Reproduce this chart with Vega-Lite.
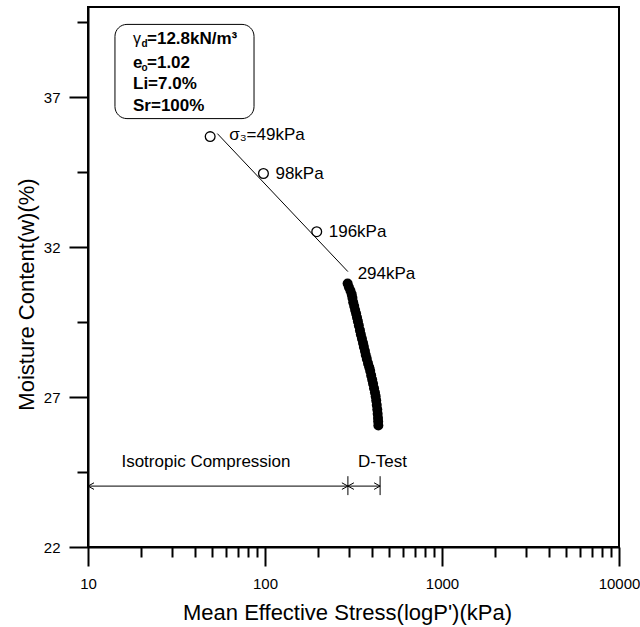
{
  "$schema": "https://vega.github.io/schema/vega-lite/v6.json",
  "width": 531,
  "height": 540,
  "autosize": {"type": "none"},
  "padding": {"left": 88, "top": 7, "right": 21, "bottom": 80},
  "background": "white",
  "config": {
    "view": {"stroke": "black", "strokeWidth": 2},
    "font": "Liberation Sans",
    "axis": {"labelFont": "Liberation Sans", "titleFont": "Liberation Sans", "labelColor": "black", "titleColor": "black", "domainColor": "black", "tickColor": "black", "grid": false}
  },
  "datasets": {
    "open": [
      {"P": 49, "w": 35.68},
      {"P": 98, "w": 34.45},
      {"P": 196, "w": 32.51}
    ],
    "fit": [
      {"P": 53.8, "w": 35.78},
      {"P": 294, "w": 31.18}
    ],
    "filled": [
      {"P": 293, "w": 30.78}, {"P": 298, "w": 30.66}, {"P": 304, "w": 30.54}, {"P": 309, "w": 30.42},
      {"P": 312, "w": 30.30}, {"P": 315, "w": 30.16}, {"P": 319, "w": 30.03}, {"P": 323, "w": 29.90},
      {"P": 327, "w": 29.78}, {"P": 331, "w": 29.65}, {"P": 335, "w": 29.52}, {"P": 339, "w": 29.38},
      {"P": 344, "w": 29.22}, {"P": 348, "w": 29.08}, {"P": 353, "w": 28.94}, {"P": 358, "w": 28.80},
      {"P": 362, "w": 28.67}, {"P": 367, "w": 28.53}, {"P": 371, "w": 28.40}, {"P": 376, "w": 28.27},
      {"P": 382, "w": 28.12}, {"P": 388, "w": 27.99}, {"P": 393, "w": 27.87}, {"P": 398, "w": 27.72},
      {"P": 403, "w": 27.58}, {"P": 408, "w": 27.44}, {"P": 413, "w": 27.29}, {"P": 418, "w": 27.15},
      {"P": 422, "w": 27.02}, {"P": 425, "w": 26.88}, {"P": 428, "w": 26.73}, {"P": 431, "w": 26.58},
      {"P": 433, "w": 26.44}, {"P": 435, "w": 26.30}, {"P": 436, "w": 26.18}, {"P": 437, "w": 26.05}
    ],
    "labels": [
      {"P": 49, "w": 35.68, "label": "σ₃=49kPa", "k": "a"},
      {"P": 98, "w": 34.45, "label": "98kPa", "k": "b"},
      {"P": 196, "w": 32.51, "label": "196kPa", "k": "b"},
      {"P": 293, "w": 30.78, "label": "294kPa", "k": "c"}
    ],
    "box": [{"P": 14.2, "P2": 86.7, "w": 39.42, "w2": 36.28}],
    "boxtext": [
      {"P": 17.96, "w": 38.92, "t": "γ", "part": "greek"},
      {"P": 17.96, "w": 38.92, "t": "d", "part": "sub"},
      {"P": 17.96, "w": 38.92, "t": "=12.8kN/m³", "part": "rest"},
      {"P": 17.96, "w": 38.15, "t": "e", "part": "main"},
      {"P": 17.96, "w": 38.15, "t": "o", "part": "sub"},
      {"P": 17.96, "w": 38.15, "t": "=1.02", "part": "rest"},
      {"P": 17.96, "w": 37.42, "t": "Li=7.0%", "part": "main"},
      {"P": 17.96, "w": 36.70, "t": "Sr=100%", "part": "main"}
    ],
    "span": [{"P": 10, "P2": 447, "w": 24.03}],
    "bars": [{"P": 294, "w": 24.36, "w2": 23.73}, {"P": 447, "w": 24.36, "w2": 23.73}],
    "heads": [
      {"P": 10, "w": 24.03, "dir": "left"},
      {"P": 294, "w": 24.03, "dir": "right"},
      {"P": 294, "w": 24.03, "dir": "left"},
      {"P": 447, "w": 24.03, "dir": "right"}
    ],
    "phase": [
      {"P": 46.4, "w": 24.85, "t": "Isotropic Compression"},
      {"P": 461, "w": 24.85, "t": "D-Test"}
    ]
  },
  "resolve": {"axis": {"x": "independent", "y": "independent"}},
  "encoding": {
    "x": {"field": "P", "type": "quantitative", "scale": {"type": "log", "domain": [10, 10000], "nice": false}, "axis": null},
    "y": {"field": "w", "type": "quantitative", "scale": {"domain": [22, 40], "nice": false, "zero": false}, "axis": null}
  },
  "layer": [
    {
      "data": {"name": "open"},
      "mark": {"type": "point", "shape": "circle", "filled": false, "stroke": "black", "strokeWidth": 1.3, "size": 95, "opacity": 1},
      "encoding": {
        "x": {"field": "P", "type": "quantitative", "scale": {"type": "log", "domain": [10, 10000], "nice": false},
          "axis": {"orient": "bottom", "values": [10, 100, 1000, 10000], "format": "d", "labelFontSize": 15, "labelPadding": 10, "tickSize": 19, "tickWidth": 2, "domainWidth": 2, "labelFlush": false, "labelOverlap": false,
            "title": "Mean Effective Stress(logP')(kPa)", "titleFontSize": 22, "titleFontWeight": "normal", "titleX": 259, "titleY": 72, "titleBaseline": "alphabetic", "titleAlign": "center"}},
        "y": {"field": "w", "type": "quantitative", "scale": {"domain": [22, 40], "nice": false, "zero": false},
          "axis": {"orient": "left", "values": [22, 27, 32, 37], "labelFontSize": 15, "labelPadding": 9, "tickSize": 19, "tickWidth": 2, "domainWidth": 2, "labelFlush": false, "labelOverlap": false,
            "title": "Moisture Content(w)(%)", "titleFontSize": 22, "titleFontWeight": "normal", "titleAngle": 270, "titleX": -55, "titleY": 287, "titleBaseline": "alphabetic", "titleAlign": "center"}}
      }
    },
    {
      "data": {"name": "fit"},
      "mark": {"type": "line", "color": "black", "strokeWidth": 1},
      "encoding": {
        "x": {"field": "P", "type": "quantitative", "scale": {"type": "log", "domain": [10, 10000], "nice": false},
          "axis": {"orient": "bottom", "values": [20, 30, 40, 50, 60, 70, 80, 90, 200, 300, 400, 500, 600, 700, 800, 900, 2000, 3000, 4000, 5000, 6000, 7000, 8000, 9000], "labels": false, "domain": false, "tickSize": 10, "tickWidth": 2, "title": null}},
        "y": {"field": "w", "type": "quantitative", "scale": {"domain": [22, 40], "nice": false, "zero": false},
          "axis": {"orient": "left", "values": [24.5, 29.5, 34.5, 39.5], "labels": false, "domain": false, "tickSize": 11, "tickWidth": 2, "title": null}}
      }
    },
    {
      "data": {"name": "filled"},
      "mark": {"type": "point", "shape": "circle", "filled": true, "color": "black", "size": 100, "opacity": 1}
    },
    {
      "data": {"name": "labels"},
      "transform": [{"filter": "datum.k === 'a'"}],
      "mark": {"type": "text", "align": "left", "baseline": "middle", "fontSize": 17, "dx": 19, "dy": -2, "color": "black"},
      "encoding": {"text": {"field": "label"}}
    },
    {
      "data": {"name": "labels"},
      "transform": [{"filter": "datum.k === 'b'"}],
      "mark": {"type": "text", "align": "left", "baseline": "middle", "fontSize": 17, "dx": 12, "dy": 0, "color": "black"},
      "encoding": {"text": {"field": "label"}}
    },
    {
      "data": {"name": "labels"},
      "transform": [{"filter": "datum.k === 'c'"}],
      "mark": {"type": "text", "align": "left", "baseline": "middle", "fontSize": 17, "dx": 10, "dy": -10, "color": "black"},
      "encoding": {"text": {"field": "label"}}
    },
    {
      "data": {"name": "box"},
      "mark": {"type": "rect", "fill": "white", "stroke": "black", "strokeWidth": 1, "cornerRadius": 12},
      "encoding": {"x2": {"field": "P2"}, "y2": {"field": "w2"}}
    },
    {
      "data": {"name": "boxtext"},
      "transform": [{"filter": "datum.part === 'main'"}],
      "mark": {"type": "text", "align": "left", "baseline": "middle", "fontSize": 17, "fontWeight": "bold", "color": "black"},
      "encoding": {"text": {"field": "t"}}
    },
    {
      "data": {"name": "boxtext"},
      "transform": [{"filter": "datum.part === 'greek'"}],
      "mark": {"type": "text", "align": "left", "baseline": "middle", "fontSize": 16, "fontWeight": "normal", "color": "black"},
      "encoding": {"text": {"field": "t"}}
    },
    {
      "data": {"name": "boxtext"},
      "transform": [{"filter": "datum.part === 'sub'"}],
      "mark": {"type": "text", "align": "left", "baseline": "middle", "fontSize": 10, "fontWeight": "bold", "dx": 8.5, "dy": 5, "color": "black"},
      "encoding": {"text": {"field": "t"}}
    },
    {
      "data": {"name": "boxtext"},
      "transform": [{"filter": "datum.part === 'rest'"}],
      "mark": {"type": "text", "align": "left", "baseline": "middle", "fontSize": 17, "fontWeight": "bold", "dx": 14, "color": "black"},
      "encoding": {"text": {"field": "t"}}
    },
    {
      "data": {"name": "span"},
      "mark": {"type": "rule", "color": "black", "strokeWidth": 1},
      "encoding": {"x2": {"field": "P2"}}
    },
    {
      "data": {"name": "bars"},
      "mark": {"type": "rule", "color": "black", "strokeWidth": 1},
      "encoding": {"y2": {"field": "w2"}}
    },
    {
      "data": {"name": "heads"},
      "transform": [{"filter": "datum.dir === 'left'"}],
      "mark": {"type": "point", "shape": "M 1 -0.55 L 0 0 L 1 0.55", "filled": false, "stroke": "black", "strokeWidth": 1, "size": 144, "opacity": 1}
    },
    {
      "data": {"name": "heads"},
      "transform": [{"filter": "datum.dir === 'right'"}],
      "mark": {"type": "point", "shape": "M -1 -0.55 L 0 0 L -1 0.55", "filled": false, "stroke": "black", "strokeWidth": 1, "size": 144, "opacity": 1}
    },
    {
      "data": {"name": "phase"},
      "mark": {"type": "text", "align": "center", "baseline": "middle", "fontSize": 17, "color": "black"},
      "encoding": {"text": {"field": "t"}}
    }
  ]
}
